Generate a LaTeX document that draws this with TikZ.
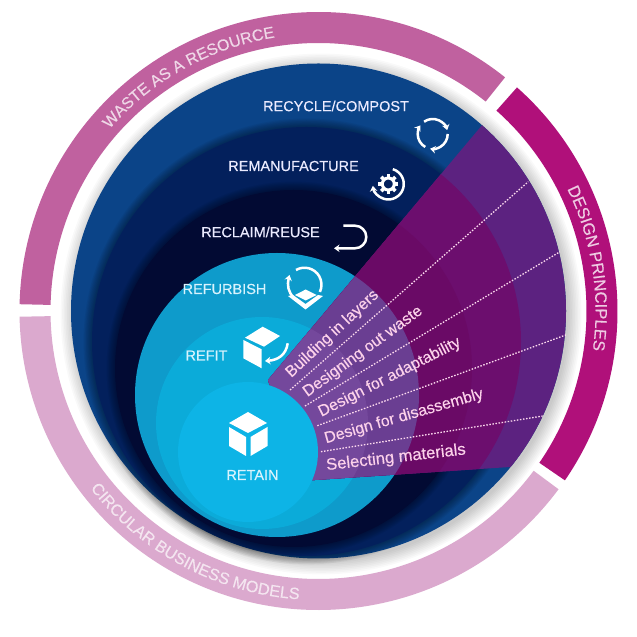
\documentclass[tikz,border=0pt]{standalone}
\usepackage{fontspec}
\setmainfont[FakeBold=0.35]{Liberation Sans}
\usetikzlibrary{arrows.meta, decorations.text}
\definecolor{wastepink}{HTML}{C0619F}
\definecolor{designpink}{HTML}{B0107A}
\definecolor{circpink}{HTML}{DBA9CE}
\definecolor{recyclecol}{HTML}{0B4488}
\definecolor{remancol}{HTML}{03205C}
\definecolor{reclaimcol}{HTML}{020A33}
\definecolor{refurbcol}{HTML}{0E9BCB}
\definecolor{refitcol}{HTML}{0BABD9}
\definecolor{retaincol}{HTML}{0DB4E6}
\definecolor{wedgea}{RGB}{92,34,128}
\definecolor{wedgeb}{RGB}{108,14,110}
\definecolor{wedgec}{RGB}{106,10,102}
\definecolor{wedged}{RGB}{106,62,146}
\definecolor{wedgee}{RGB}{116,72,156}
\newcommand{\ringseg}[3]{\fill[#3] (#1:299) arc (#1:#2:299) -- (#2:268) arc (#2:#1:268) -- cycle;}
\newcommand{\softedge}[3]{\foreach \i in {1,...,7} {\fill[black, opacity=0.05] (#1,#2) circle (#3+1.2*\i);}}

\begin{document}
\begin{tikzpicture}[
    x=1pt, y=1pt,
    stage/.style={font=\fontsize{14.5}{14}\selectfont, text=white!92!blue, inner sep=0pt},
    stagecyan/.style={stage, text=cyan!15!white},
    principle/.style={font=\fontsize{15.9}{16}\selectfont, text=white!82!magenta, inner sep=0pt},
    divider/.style={white!85!magenta, line width=1.3pt, dash pattern=on 1.5pt off 1.6pt},
    icon/.style={white, line width=2.5pt, -{Stealth[length=5.5pt, width=7.5pt]}},
    iconline/.style={white, line width=2.5pt}
  ]
    \useasboundingbox (0,0) rectangle (637,637);
    \fill[white] (0,0) rectangle (637,637);

    % outer ring
    \begin{scope}[shift={(318.5,326)}]
      \ringseg{51.4}{178.7}{wastepink}
      \ringseg{48.4}{-34.5}{designpink}
      \ringseg{-36.6}{-178.9}{circpink}
      \path[decorate, decoration={text along path, text align=center,
        text={|\fontsize{16}{16}\selectfont\color{white!75!wastepink}|WASTE AS A RESOURCE}}]
        (141:277) arc (141:97:277);
      \path[decorate, decoration={text along path, text align=center,
        text={|\fontsize{16.5}{16}\selectfont\color{white!78!designpink}|DESIGN PRINCIPLES}}]
        (28:277) arc (28:-10:277);
      \path[decorate, decoration={text along path, text align=center,
        text={|\fontsize{16.3}{16}\selectfont\color{white!70!circpink}|CIRCULAR BUSINESS MODELS}}]
        (216:289) arc (216:268:289);
    \end{scope}

    % shadow on the white ring
    \foreach \i in {1,...,9} {\fill[black, opacity=0.022] (321,323) circle (246+1.6*\i);}

    % stages
    \fill[recyclecol] (318.5,326) circle (247.5);
    \softedge{306.5}{295.5}{214.5}
    \fill[remancol] (306.5,295.5) circle (214.5);
    \softedge{293.5}{268.5}{178.5}
    \fill[reclaimcol] (293.5,268.5) circle (178.5);
    \fill[refurbcol] (277,242) circle (142);
    \fill[refitcol] (262,214) circle (106);

    % purple wedge
    \begin{scope}
      \clip (268,257) -- (520,557) -- (630,557) -- (630,174) -- (510,170) -- (300,156) -- cycle;
      \fill[wedgea] (318.5,326) circle (247.5);
      \fill[wedgeb] (306.5,295.5) circle (214.5);
      \fill[wedgec] (293.5,268.5) circle (178.5);
      \fill[wedged] (277,242) circle (142);
      \fill[wedgee] (262,214) circle (106);
    \end{scope}

    \fill[retaincol] (248,185) circle (70);

    % dotted lines
    \coordinate (d1a) at (290,247);
    \coordinate (d1b) at (528.3,455.3);
    \coordinate (d2a) at (305,231);
    \coordinate (d2b) at (560,385.3);
    \coordinate (d3a) at (317.3,211.3);
    \coordinate (d3b) at (565.7,302);
    \coordinate (d4a) at (321,185.3);
    \coordinate (d4b) at (542.7,221);
    \draw[divider] (d1a) -- (d1b);
    \draw[divider] (d2a) -- (d2b);
    \draw[divider] (d3a) -- (d3b);
    \draw[divider] (d4a) -- (d4b);

    % labels
    \node[stage] (recycle) at (336,531) {RECYCLE/COMPOST};
    \node[stage] (reman) at (293.5,471) {REMANUFACTURE};
    \node[stage] (reclaim) at (260.5,405) {RECLAIM/REUSE};
    \node[stagecyan] (refurbish) at (224.5,348) {REFURBISH};
    \node[stagecyan] (refit) at (206.5,281.5) {REFIT};
    \node[stagecyan] (retain) at (252.5,162) {RETAIN};

    \node[principle, rotate=43] (layers) at (332.5,303) {Building in layers};
    \node[principle, rotate=36] (waste) at (363,285.3) {Designing out waste};
    \node[principle, rotate=27] (adapt) at (389.7,259.5) {Design for adaptability};
    \node[principle, rotate=16] (disas) at (404,220.3) {Design for disassembly};
    \node[principle, rotate=6.5, font=\fontsize{16.6}{16}\selectfont] (select) at (396,179) {Selecting materials};

    % retain icon
    \fill[white] (248,225) -- (267,214) -- (248,204) -- (229,214) -- cycle;
    \fill[white] (229,210) -- (246,200) -- (246,181) -- (229,191) -- cycle;
    \fill[white] (267.5,210) -- (250.5,200) -- (250.5,181) -- (267.5,191) -- cycle;

    % refit icon
    \fill[white] (262.7,310.3) -- (280,301) -- (264,290.3) -- (245,299.3) -- cycle;
    \fill[white] (243.3,297) -- (261.7,287.7) -- (261.7,268.7) -- (243.3,278.7) -- cycle;
    \draw[icon] (287.7,293.7) .. controls (286,282) and (278,277) .. (265,276);

    % refurbish icon
    \draw[iconline] (296,367) arc (120:-25:17);
    \draw[icon] (294,339) .. controls (288,345) and (287,352) .. (289.5,362);
    \fill[white] (295,342) -- (305.7,347.5) -- (316.7,342) -- (305.7,336.5) -- cycle;
    \fill[white] (288,341) -- (305.5,327.5) -- (323,341) -- (318,342) -- (305.5,333) -- (293,342) -- cycle;

    % reclaim icon
    \draw[icon] (343.3,411.3) -- (355,411.3) arc (90:-90:11.3) -- (334,388.7);

    % remanufacture icon
    \draw[icon, shift={(388.3,453)}] (73:15.5) arc (73:-173:15.5);
    \draw[white, line width=3pt] (388.3,453) circle (6);
    \foreach \a in {0,45,...,315} {\fill[white, shift={(388.3,453)}, rotate=\a] (-1.8,6) rectangle (1.8,10);}

    % recycle icon
    \begin{scope}[shift={(432.7,503)}]
      \draw[icon] (125:15) arc (125:15:15);
      \draw[icon] (0:15) arc (0:-100:15);
      \draw[icon] (-120:15) arc (-120:-215:15);
    \end{scope}
\end{tikzpicture}
\end{document}
